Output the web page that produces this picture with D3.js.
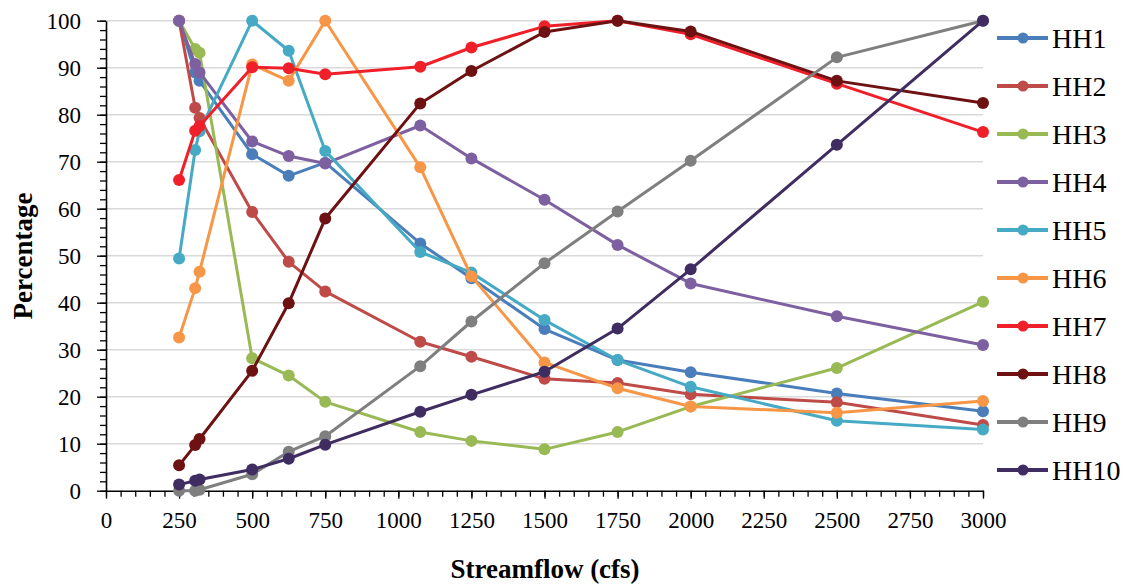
<!DOCTYPE html>
<html>
<head>
<meta charset="utf-8">
<script src="https://cdn.jsdelivr.net/npm/d3@7"></script>
<style>
  body { margin: 0; background: #fff; }
  text { font-family: "Liberation Serif", "DejaVu Serif", serif; fill: #000; }
</style>
</head>
<body>
<div id="chart"></div>
<script>
// data
const flows = [250, 305, 320, 500, 625, 750, 1075, 1250, 1500, 1750, 2000, 2500, 3000];
const seriesNames = ["HH1", "HH2", "HH3", "HH4", "HH5", "HH6", "HH7", "HH8", "HH9", "HH10"];
const hh1 = [100, 89, 87.2, 71.6, 67, 69.8, 52.6, 45.2, 34.4, 27.8, 25.2, 20.7, 16.9];
const hh2 = [100, 81.5, 79.3, 59.3, 48.7, 42.4, 31.7, 28.5, 23.8, 22.9, 20.5, 18.8, 14];
const hh3 = [100, 94, 93.2, 28.2, 24.5, 18.9, 12.5, 10.6, 8.8, 12.5, 17.9, 26.1, 40.2];
const hh4 = [100, 90.8, 89, 74.3, 71.2, 69.6, 77.7, 70.7, 61.9, 52.3, 44.1, 37.1, 31];
const hh5 = [49.4, 72.5, 76.5, 100, 93.6, 72.3, 50.8, 46.4, 36.3, 27.8, 22.1, 14.9, 13];
const hh6 = [32.6, 43.1, 46.6, 90.7, 87.2, 100, 68.8, 45.6, 27.3, 21.8, 17.9, 16.6, 19.1];
const hh7 = [66.1, 76.6, 77.6, 90.1, 89.9, 88.6, 90.2, 94.3, 98.8, 100, 97.1, 86.6, 76.3];
const hh8 = [5.4, 9.7, 11, 25.5, 39.9, 57.9, 82.4, 89.3, 97.6, 100, 97.7, 87.2, 82.5];
const hh9 = [0, 0, 0.2, 3.5, 8.3, 11.6, 26.5, 36, 48.4, 59.4, 70.2, 92.2, 100];
const hh10 = [1.3, 2.1, 2.4, 4.5, 6.8, 9.8, 16.8, 20.4, 25.3, 34.5, 47.1, 73.6, 100];
const seriesValues = [hh1, hh2, hh3, hh4, hh5, hh6, hh7, hh8, hh9, hh10];
const colors = ["#4a7ebb", "#be4b48", "#98b954", "#7d60a0", "#46aac5",
                "#f79646", "#f0202a", "#6e1112", "#7f7f7f", "#3f2c60"];
const xTicks = [0, 250, 500, 750, 1000, 1250, 1500, 1750, 2000, 2250, 2500, 2750, 3000];
const yTicks = [0, 10, 20, 30, 40, 50, 60, 70, 80, 90, 100];

// layout
const width = 1128, height = 586;
const plot = { left: 106, right: 983, top: 20.7, bottom: 490.7 };

var svg = d3.select("#chart")
  .append("svg")
  .attr("width", width)
  .attr("height", height);

var x = d3.scaleLinear().domain([0, 3000]).range([plot.left, plot.right]);
var y = d3.scaleLinear().domain([0, 100]).range([plot.bottom, plot.top]);

// horizontal gridlines
svg.append("g")
  .selectAll("line")
  .data(yTicks.filter((d) => d > 0))
  .enter()
  .append("line")
  .attr("x1", plot.left)
  .attr("x2", plot.right)
  .attr("y1", (d) => y(d))
  .attr("y2", (d) => y(d))
  .style("stroke", "#d9d9d9")
  .style("stroke-width", 1.5);

// minor ticks (x every 50, y every 2)
svg.append("g")
  .attr("transform", "translate(0," + plot.bottom + ")")
  .call(d3.axisBottom(x).tickValues(d3.range(0, 3001, 50)).tickSize(6).tickFormat(""))
  .call((g) => g.select(".domain").remove())
  .selectAll("line").style("stroke-width", 1.3);
svg.append("g")
  .attr("transform", "translate(" + plot.left + ",0)")
  .call(d3.axisLeft(y).tickValues(d3.range(0, 101, 2)).tickSize(6).tickFormat(""))
  .call((g) => g.select(".domain").remove())
  .selectAll("line").style("stroke-width", 1.3);

// major axes
var xAxis = svg.append("g")
  .attr("transform", "translate(0," + plot.bottom + ")")
  .call(d3.axisBottom(x).tickValues(xTicks).tickFormat(d3.format("d"))
    .tickSize(8).tickSizeOuter(0).tickPadding(13))
  .attr("font-family", "Liberation Serif")
  .attr("font-size", 23);
xAxis.select(".domain").style("stroke-width", 1.6);
xAxis.selectAll("line").style("stroke-width", 1.3);

var yAxis = svg.append("g")
  .attr("transform", "translate(" + plot.left + ",0)")
  .call(d3.axisLeft(y).tickValues(yTicks).tickSize(9).tickSizeOuter(0).tickPadding(16))
  .attr("font-family", "Liberation Serif")
  .attr("font-size", 23);
yAxis.select(".domain").style("stroke-width", 1.6);
yAxis.selectAll("line").style("stroke-width", 1.3);

// axis titles
svg.append("text")
  .text("Streamflow (cfs)")
  .attr("x", 545)
  .attr("y", 578)
  .style("text-anchor", "middle")
  .style("font-weight", "bold")
  .style("font-size", "27px");
svg.append("text")
  .text("Percentage")
  .attr("transform", "translate(32," + 256 + ") rotate(-90)")
  .style("text-anchor", "middle")
  .style("font-weight", "bold")
  .style("font-size", "27px");

// the series lines and markers
var line = d3.line()
  .x((d) => x(d[0]))
  .y((d) => y(d[1]));

seriesNames.forEach(function (name, i) {
  var pts = flows.map((f, j) => [f, seriesValues[i][j]]);
  var g = svg.append("g").attr("class", "series");
  g.append("path")
    .datum(pts)
    .attr("d", line)
    .style("fill", "none")
    .style("stroke", colors[i])
    .style("stroke-width", 3)
    .style("stroke-linejoin", "round");
  g.selectAll("circle")
    .data(pts)
    .enter()
    .append("circle")
    .attr("cx", (d) => x(d[0]))
    .attr("cy", (d) => y(d[1]))
    .attr("r", 6)
    .style("fill", colors[i]);
});

// legend on the right
var legend = svg.append("g").attr("transform", "translate(997,38)");
var rows = legend.selectAll("g")
  .data(seriesNames)
  .enter()
  .append("g")
  .attr("transform", (d, i) => "translate(0," + i * 48 + ")");
rows.append("line")
  .attr("x1", 0)
  .attr("x2", 51)
  .style("stroke", (d, i) => colors[i])
  .style("stroke-width", 4);
rows.append("circle")
  .attr("cx", 26)
  .attr("r", 5.5)
  .style("fill", (d, i) => colors[i]);
rows.append("text")
  .text((d) => d)
  .attr("x", 55)
  .attr("dy", "0.35em")
  .style("font-size", "28px");
</script>
</body>
</html>
